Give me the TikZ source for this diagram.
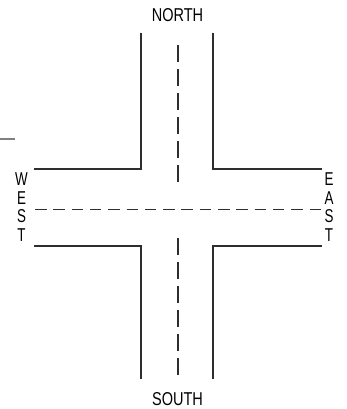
\documentclass[tikz,border=0pt]{standalone}
\usepackage{fontspec}
\setmainfont{Liberation Sans}
\begin{document}
\begin{tikzpicture}[x=1pt,y=-1pt,
  road/.style={line width=1.8pt,draw=black!82},
  vlane/.style={line width=1.8pt,draw=black!82,dash pattern=on 17pt off 7pt},
  hlane/.style={line width=1.8pt,draw=black!82,dash pattern=on 11.5pt off 6.8pt},
  lbl/.style={inner sep=0pt,font=\fontsize{18.6}{20}\selectfont},
]
\useasboundingbox (0,0) rectangle (346,409);
% road edges
\draw[road] (141.3,32.7) -- (141.3,169) -- (34,169);
\draw[road] (212.7,32.7) -- (212.7,169) -- (321.7,169);
\draw[road] (34,246) -- (141.3,246) -- (141.3,379.3);
\draw[road] (321.7,246) -- (212.7,246) -- (212.7,379.3);
% centre lines
\draw[vlane] (178.3,45) -- (178.3,182);
\draw[vlane] (178.3,237.7) -- (178.3,375);
\draw[hlane] (35,209.5) -- (321.5,209.5);
% stray grey mark
\draw[line width=2pt,draw=black!50] (0,139) -- (15,139);
% labels
\node[lbl] (north) at (177.5,15) {\scalebox{0.78}[1]{NORTH}};
\node[lbl] (south) at (177.5,399.3) {\scalebox{0.78}[1]{SOUTH}};
\node[lbl] (w1) at (21.5,179.5) {\scalebox{0.72}[1]{W}};
\node[lbl] (w2) at (21.5,198) {\scalebox{0.72}[1]{E}};
\node[lbl] (w3) at (21.5,216.5) {\scalebox{0.72}[1]{S}};
\node[lbl] (w4) at (21.5,235.5) {\scalebox{0.72}[1]{T}};
\node[lbl] (e1) at (329,179.5) {\scalebox{0.72}[1]{E}};
\node[lbl] (e2) at (329,198) {\scalebox{0.72}[1]{A}};
\node[lbl] (e3) at (329,216.5) {\scalebox{0.72}[1]{S}};
\node[lbl] (e4) at (329,235.5) {\scalebox{0.72}[1]{T}};
\end{tikzpicture}
\end{document}
